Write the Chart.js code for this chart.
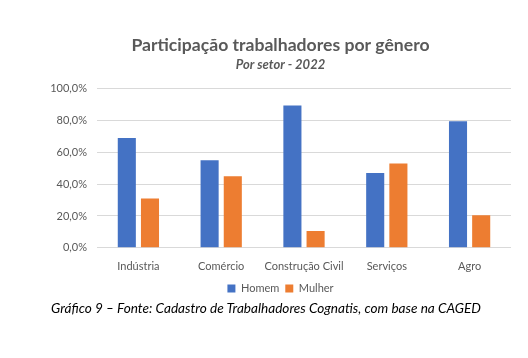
<!DOCTYPE html>
<html>
<head>
<meta charset="utf-8">
<script src="https://cdn.jsdelivr.net/npm/chart.js@4"></script>
<style>
  body { margin: 0; background: #fff; }
  #wrap { position: relative; width: 528px; height: 358px; }
  #caption {
    position: absolute; left: 0; width: 532px; top: 300px;
    text-align: center; font: italic 13.6px Lato, sans-serif; color: #000;
  }
</style>
</head>
<body>
<div id="wrap">
  <canvas id="chart" width="528" height="358"></canvas>
  <div id="caption">Gráfico 9 – Fonte: Cadastro de Trabalhadores Cognatis, com base na CAGED</div>
</div>
<script>
const setores = ["Indústria", "Comércio", "Construção Civil", "Serviços", "Agro"];
const homem = [69, 55, 89.5, 47, 79.5];
const mulher = [31, 45, 10.5, 53, 20.5];
const yTicks = [0, 20, 40, 60, 80, 100];

const grey = "#595959";

new Chart(document.getElementById("chart"), {
  type: "bar",
  data: {
    labels: setores,
    datasets: [
      { label: "Homem", data: homem, backgroundColor: "#4472C4" },
      { label: "Mulher", data: mulher, backgroundColor: "#ED7D31" }
    ]
  },
  options: {
    responsive: false,
    animation: false,
    layout: { padding: { top: 35, left: 50, right: 17, bottom: 54 } },
    datasets: { bar: { categoryPercentage: 0.56, barPercentage: 0.78 } },
    plugins: {
      title: {
        display: true,
        text: "Participação trabalhadores por gênero",
        color: grey,
        font: { family: "Lato", size: 17.6, weight: "bold" },
        padding: { top: 0, bottom: 0 }
      },
      subtitle: {
        display: true,
        text: "Por setor - 2022",
        color: grey,
        font: { family: "Lato", size: 13, weight: "bold", style: "italic" },
        padding: { top: 1, bottom: 16 }
      },
      legend: {
        position: "bottom",
        labels: {
          boxWidth: 8, boxHeight: 8, padding: 6,
          color: grey,
          font: { family: "Lato", size: 11 }
        }
      },
      tooltip: { enabled: false }
    },
    scales: {
      x: {
        grid: { display: false },
        border: { display: false },
        ticks: { color: grey, font: { family: "Lato", size: 11 }, padding: 4, maxRotation: 0 }
      },
      y: {
        min: 0, max: 100,
        afterBuildTicks: axis => { axis.ticks = yTicks.map(v => ({ value: v })); },
        afterFit: axis => { axis.width = 47; },
        grid: { color: "#d9d9d9", drawTicks: false },
        border: { display: false },
        ticks: {
          color: grey, padding: 10,
          font: { family: "Lato", size: 11 },
          callback: v => v.toFixed(1).replace(".", ",") + "%"
        }
      }
    }
  }
});
</script>
</body>
</html>
